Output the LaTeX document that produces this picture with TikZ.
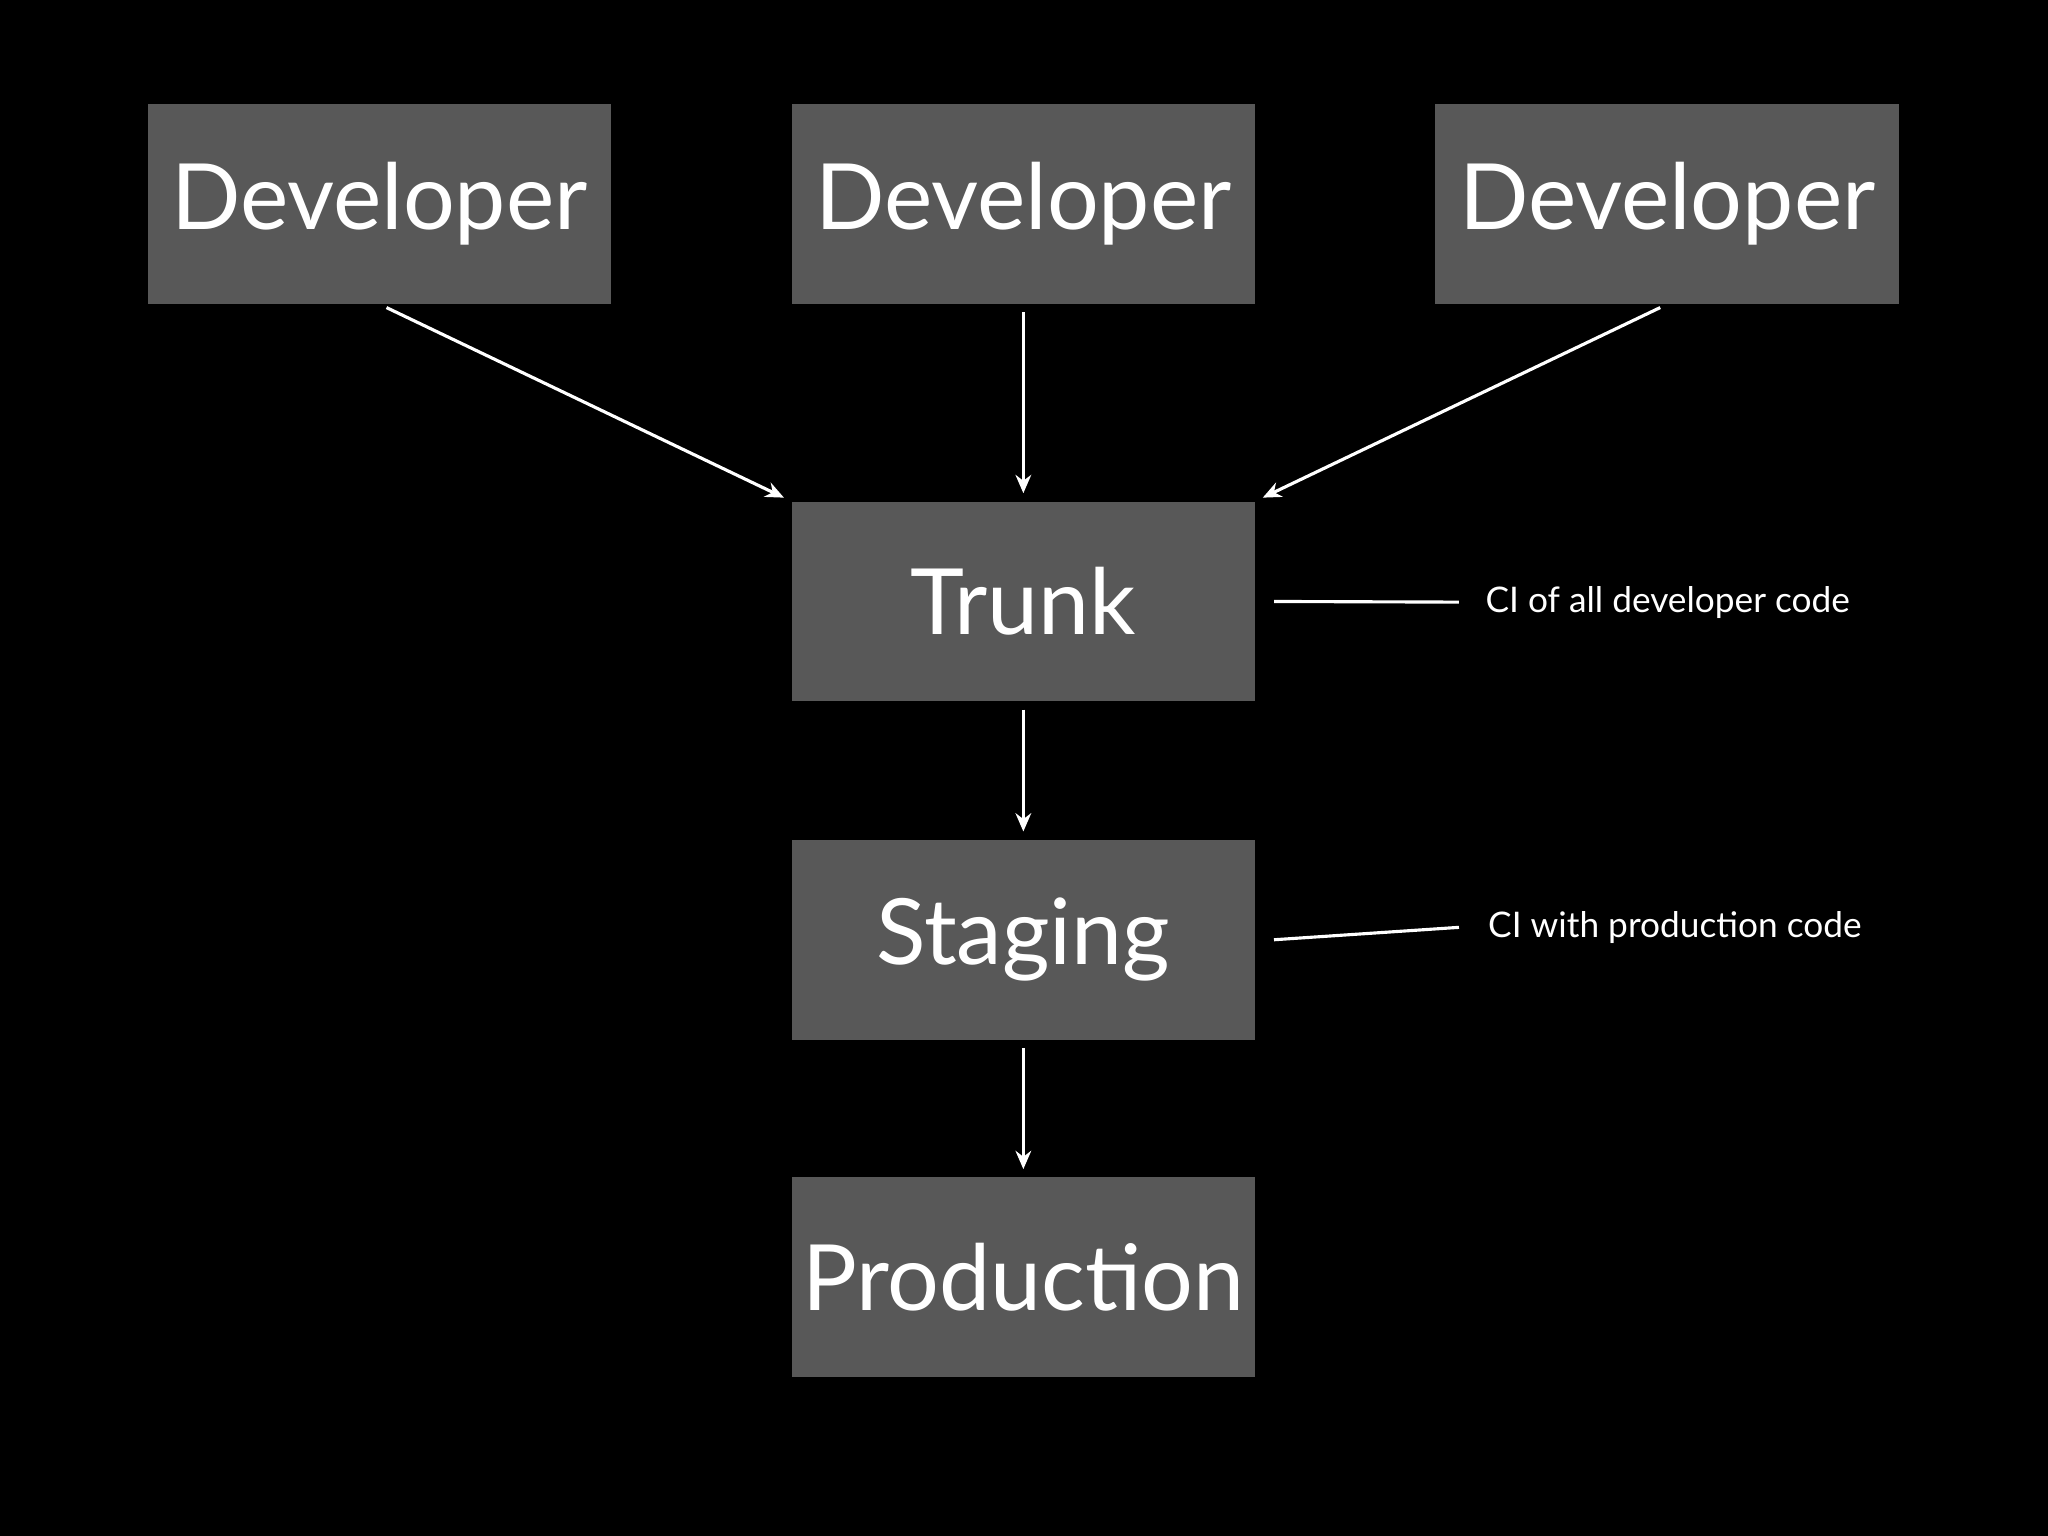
\documentclass[tikz,border=0pt]{standalone}
\usepackage{fontspec}
\setmainfont{Lato}
\usetikzlibrary{arrows.meta}
\begin{document}
\begin{tikzpicture}[x=0.5pt,y=-0.5pt,
  box/.style={fill=boxgray,draw=none,minimum width=177.5pt,minimum height=76.5pt,inner sep=0pt,text=white,font=\fontsize{35}{40}\selectfont},
  arr/.style={draw=white,line width=1.2pt,-{Stealth[length=7pt,width=6pt]},shorten <=3pt,shorten >=3pt},
  lbl/.style={text=white,anchor=west,inner sep=0pt,font=\fontsize{13.5}{16}\selectfont}]
\definecolor{boxgray}{HTML}{585858}
\fill[black] (0,0) rectangle (1568,1176);
\node[box] (d1) at (290.5,156) {Developer};
\node[box] (d2) at (783.5,156) {Developer};
\node[box] (d3) at (1276.5,156) {Developer};
\node[box] (t) at (783.5,460.5) {Trunk};
\node[box] (s) at (783.5,719.5) {Staging};
\node[box] (p) at (783.5,978) {Production};
\draw[arr] (d1.south) -- (t.north west);
\draw[arr] (d2.south) -- (t.north);
\draw[arr] (d3.south) -- (t.north east);
\draw[arr] (t.south) -- (s.north);
\draw[arr] (s.south) -- (p.north);
\node[lbl] (c1) at (1137,461) {CI of all developer code};
\node[lbl] (c2) at (1139,710) {CI with production code};
\draw[white,line width=1.2pt] ([xshift=7pt]t.east) -- ([xshift=-10pt]c1.west);
\draw[white,line width=1.2pt] ([xshift=7pt]s.east) -- ([xshift=-11pt]c2.west);
\end{tikzpicture}
\end{document}
